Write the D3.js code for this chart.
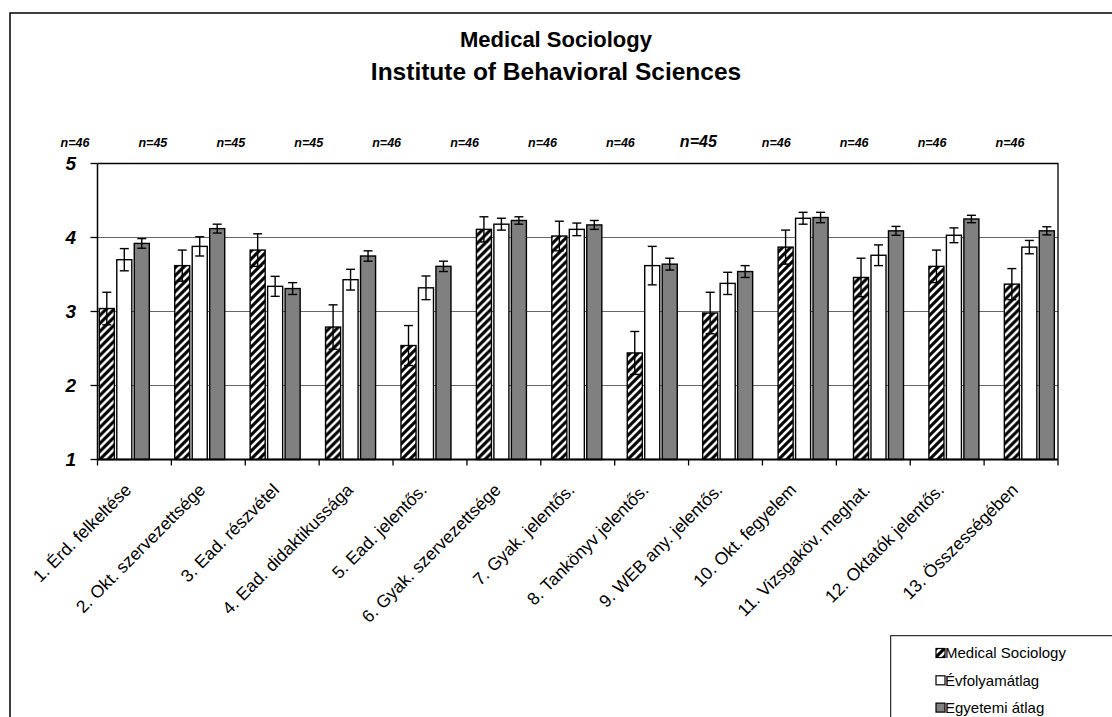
<!DOCTYPE html>
<html>
<head>
<meta charset="utf-8">
<script src="https://cdn.jsdelivr.net/npm/d3@7/dist/d3.min.js"></script>
<style>
  html, body { margin: 0; padding: 0; background: #fff; }
  svg { display: block; font-family: "Liberation Sans", Arial, Helvetica, sans-serif; }
</style>
</head>
<body>
<svg id="chart" width="1112" height="717"></svg>
<script>
// ---- data ----
const categories = [
  "1. Érd. felkeltése", "2. Okt. szervezettsége", "3. Ead. részvétel",
  "4. Ead. didaktikussága", "5. Ead. jelentős.", "6. Gyak. szervezettsége",
  "7. Gyak. jelentős.", "8. Tankönyv jelentős.", "9. WEB any. jelentős.",
  "10. Okt. fegyelem", "11. Vizsgaköv. meghat.", "12. Oktatók jelentős.",
  "13. Összességében"
];
const seriesNames = ["Medical Sociology", "Évfolyamátlag", "Egyetemi átlag"];
const medSocValues = [3.04, 3.62, 3.83, 2.79, 2.54, 4.11, 4.02, 2.44, 2.98, 3.87, 3.46, 3.61, 3.37];
const medSocErr    = [0.22, 0.21, 0.22, 0.30, 0.27, 0.17, 0.20, 0.29, 0.28, 0.23, 0.26, 0.22, 0.21];
const evfValues    = [3.70, 3.88, 3.34, 3.43, 3.32, 4.18, 4.11, 3.62, 3.38, 4.26, 3.76, 4.03, 3.87];
const evfErr       = [0.15, 0.13, 0.135, 0.14, 0.16, 0.08, 0.085, 0.26, 0.15, 0.08, 0.14, 0.10, 0.09];
const egyValues    = [3.92, 4.12, 3.31, 3.75, 3.61, 4.23, 4.17, 3.64, 3.54, 4.27, 4.09, 4.25, 4.09];
const egyErr       = [0.065, 0.06, 0.08, 0.07, 0.07, 0.05, 0.06, 0.08, 0.08, 0.07, 0.06, 0.05, 0.055];
const nLabels      = ["n=46","n=45","n=45","n=45","n=46","n=46","n=46","n=46","n=45","n=46","n=46","n=46","n=46"];
const yTicks       = [1, 2, 3, 4, 5];

const seriesValues = [medSocValues, evfValues, egyValues];
const seriesErrors = [medSocErr, evfErr, egyErr];

// ---- layout ----
const svg = d3.select("#chart");
const plot = { left: 97.5, right: 1058, top: 163.5, bottom: 459.5 };
const defs = svg.append("defs");
const pat = defs.append("pattern").attr("id", "hatch").attr("patternUnits", "userSpaceOnUse")
  .attr("width", 8).attr("height", 8);
pat.append("rect").attr("width", 8).attr("height", 8).attr("fill", "#000");
pat.append("path").attr("d", "M-2,2 L2,-2 M0,8 L8,0 M6,10 L10,6")
  .attr("stroke", "#fff").attr("stroke-width", 2.6);

const fills = ["url(#hatch)", "#ffffff", "#808080"];

// outer frame
svg.append("path").attr("d", "M10,717 L10,13 L1112,13")
  .attr("fill", "none").attr("stroke", "#000").attr("stroke-width", 1.5);

// title
const title = svg.append("text").attr("text-anchor", "middle").attr("font-weight", "bold")
  .attr("fill", "#000");
title.append("tspan").attr("x", 556).attr("y", 47).attr("font-size", 22).text("Medical Sociology");
title.append("tspan").attr("x", 556).attr("y", 80).attr("font-size", 24.5).text("Institute of Behavioral Sciences");

// scales
const y = d3.scaleLinear().domain([1, 5]).range([plot.bottom, plot.top]);
const xAxisScale = d3.scaleBand().domain(categories).range([plot.left, plot.right]);
const xGroup = d3.scaleBand().domain(categories).range([99.3, 99.3 + 13 * 75.42]);
const xSub = d3.scaleBand().domain(seriesNames).range([0, 50]).paddingInner(0.14);
const xN = d3.scalePoint().domain(categories).range([75, 1010]);

// gridlines
svg.append("g").selectAll("line").data(yTicks.filter(t => t > 1 && t < 5)).join("line")
  .attr("x1", plot.left).attr("x2", plot.right)
  .attr("y1", d => y(d)).attr("y2", d => y(d))
  .attr("stroke", "#666").attr("stroke-width", 1);

// plot border (top & right)
svg.append("path")
  .attr("d", `M${plot.left},${plot.top} L${plot.right},${plot.top} L${plot.right},${plot.bottom}`)
  .attr("fill", "none").attr("stroke", "#000").attr("stroke-width", 1.3);

// bars
const groups = svg.append("g").selectAll("g").data(categories).join("g")
  .attr("transform", d => `translate(${xGroup(d)},0)`);

seriesNames.forEach((s, si) => {
  groups.append("rect")
    .attr("x", xSub(s))
    .attr("width", xSub.bandwidth())
    .attr("y", (d, i) => y(seriesValues[si][i]))
    .attr("height", (d, i) => plot.bottom - y(seriesValues[si][i]))
    .attr("fill", fills[si])
    .attr("stroke", "#000").attr("stroke-width", 1.4);
});

// error bars
seriesNames.forEach((s, si) => {
  const cx = xSub(s) + xSub.bandwidth() / 2;
  const eb = groups.append("g").attr("stroke", "#000").attr("stroke-width", 1.4);
  eb.append("line").attr("x1", cx).attr("x2", cx)
    .attr("y1", (d, i) => y(seriesValues[si][i] + seriesErrors[si][i]))
    .attr("y2", (d, i) => y(seriesValues[si][i] - seriesErrors[si][i]));
  eb.append("line").attr("x1", cx - 4.5).attr("x2", cx + 4.5)
    .attr("y1", (d, i) => y(seriesValues[si][i] + seriesErrors[si][i]))
    .attr("y2", (d, i) => y(seriesValues[si][i] + seriesErrors[si][i]));
  eb.append("line").attr("x1", cx - 4.5).attr("x2", cx + 4.5)
    .attr("y1", (d, i) => y(seriesValues[si][i] - seriesErrors[si][i]))
    .attr("y2", (d, i) => y(seriesValues[si][i] - seriesErrors[si][i]));
});

// y axis
svg.append("line").attr("x1", plot.left).attr("x2", plot.left)
  .attr("y1", plot.top).attr("y2", plot.bottom).attr("stroke", "#000").attr("stroke-width", 1.5);
svg.append("g").selectAll("line").data(yTicks).join("line")
  .attr("x1", plot.left - 7).attr("x2", plot.left)
  .attr("y1", d => y(d)).attr("y2", d => y(d))
  .attr("stroke", "#000").attr("stroke-width", 1.3);
svg.append("g").selectAll("text").data(yTicks).join("text")
  .attr("x", 76).attr("y", d => y(d)).attr("dy", "0.36em")
  .attr("text-anchor", "end").attr("font-weight", "bold").attr("font-style", "italic")
  .attr("font-size", 19).text(d => d);

// x axis
svg.append("line").attr("x1", plot.left).attr("x2", plot.right)
  .attr("y1", plot.bottom).attr("y2", plot.bottom).attr("stroke", "#000").attr("stroke-width", 2);
const tickPos = categories.map(c => xAxisScale(c)).concat([plot.right]);
svg.append("g").selectAll("line").data(tickPos).join("line")
  .attr("x1", d => d).attr("x2", d => d)
  .attr("y1", plot.bottom).attr("y2", plot.bottom + 6)
  .attr("stroke", "#000").attr("stroke-width", 1.3);
svg.append("g").selectAll("text").data(categories).join("text")
  .attr("transform", d => `translate(${xAxisScale(d) + xAxisScale.bandwidth() / 2 - 2},491) rotate(-45)`)
  .attr("text-anchor", "end").attr("font-size", 17.5).attr("fill", "#000")
  .text(d => d);

// n labels
svg.append("g").selectAll("text").data(categories).join("text")
  .attr("x", d => xN(d)).attr("y", 147)
  .attr("text-anchor", "middle").attr("font-weight", "bold").attr("font-style", "italic")
  .attr("font-size", (d, i) => i === 8 ? 16 : 12.5)
  .text((d, i) => nLabels[i]);

// legend
svg.append("rect").attr("x", 890.7).attr("y", 635.7).attr("width", 260).attr("height", 120)
  .attr("fill", "#fff").attr("stroke", "#000").attr("stroke-width", 1);
const lg = svg.append("g").selectAll("g").data(seriesNames).join("g")
  .attr("transform", (d, i) => `translate(936,${653 + i * 27.3})`);
lg.append("rect").attr("x", 0).attr("y", -4.5).attr("width", 9).attr("height", 9)
  .attr("fill", (d, i) => fills[i]).attr("stroke", "#000").attr("stroke-width", 1.2);
lg.append("text").attr("x", 9).attr("y", 0).attr("dy", "0.36em")
  .attr("font-size", 15).attr("fill", "#000").text(d => d);
</script>
</body>
</html>
